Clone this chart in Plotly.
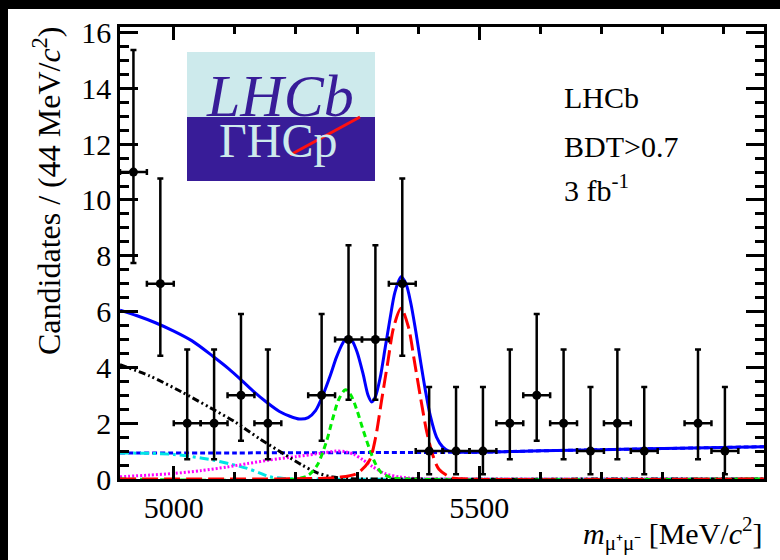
import plotly.graph_objects as go

# ---------------- data ----------------
bin_centers = [4934, 4978, 5022, 5066, 5110, 5154, 5198, 5242, 5286, 5330, 5374, 5418,
               5462, 5506, 5550, 5594, 5638, 5682, 5726, 5770, 5814, 5858, 5902, 5946]
counts = [11, 7, 2, 2, 3, 2, 0, 3, 5, 5, 7, 1, 1, 1, 2, 3, 2, 1, 2, 1, 0, 2, 1, 0]
err_hi = [4.377, 3.770, 2.638, 2.638, 2.918, 2.638, 1.841, 2.918, 3.382, 3.382, 3.770, 2.300,
          2.300, 2.300, 2.638, 2.918, 2.638, 2.300, 2.638, 2.300, 1.841, 2.638, 2.300, 1.841]
err_lo = [3.256, 2.581, 1.292, 1.292, 1.633, 1.292, 0.0, 1.633, 2.160, 2.160, 2.581, 0.827,
          0.827, 0.827, 1.292, 1.633, 1.292, 0.827, 1.292, 0.827, 0.0, 1.292, 0.827, 0.0]
bin_half_width = 22

total_x = [4912, 4940, 4970, 5000, 5030, 5064, 5090, 5108, 5130, 5152, 5173, 5190, 5206, 5220,
           5232, 5244, 5256, 5266, 5276, 5284, 5292, 5300, 5310, 5318, 5324, 5330, 5338, 5346,
           5354, 5362, 5372, 5380, 5388, 5396, 5404, 5412, 5420, 5430, 5440, 5450, 5462, 5500,
           5600, 5700, 5850, 5966]
total_y = [6.05, 5.85, 5.6, 5.3, 4.95, 4.4, 3.95, 3.6, 3.15, 2.75, 2.42, 2.25, 2.15, 2.2,
           2.45, 3.0, 3.7, 4.35, 4.85, 5.08, 4.95, 4.55, 3.75, 3.0, 2.76, 2.95, 3.65, 4.7,
           5.75, 6.7, 7.25, 7.0, 6.3, 5.3, 4.2, 3.15, 2.25, 1.5, 1.15, 1.0, 0.97, 0.96,
           1.01, 1.05, 1.11, 1.16]

comb_x = [4912, 5100, 5300, 5460, 5500, 5600, 5700, 5850, 5966]
comb_y = [0.93, 0.935, 0.945, 0.955, 0.96, 1.01, 1.05, 1.11, 1.16]

partreco_x = [4912, 4960, 5013, 5060, 5100, 5140, 5180, 5210, 5235, 5260, 5290, 5320, 5966]
partreco_y = [4.1, 3.7, 3.12, 2.55, 2.05, 1.45, 0.9, 0.5, 0.22, 0.07, 0.01, 0.0, 0.0]

semilep_x = [4912, 4960, 5000, 5030, 5064, 5090, 5119, 5140, 5157, 5180, 5220, 5966]
semilep_y = [0.93, 0.92, 0.88, 0.8, 0.68, 0.55, 0.39, 0.22, 0.08, 0.02, 0.0, 0.0]

peaking_x = [4912, 4960, 5000, 5045, 5087, 5120, 5157, 5200, 5243, 5265, 5280, 5295, 5310,
             5325, 5345, 5370, 5400, 5450, 5966]
peaking_y = [0.08, 0.14, 0.2, 0.3, 0.43, 0.55, 0.68, 0.8, 0.93, 1.0, 0.98, 0.88, 0.68,
             0.45, 0.2, 0.07, 0.01, 0.0, 0.0]

bd_x = [4912, 5200, 5220, 5235, 5250, 5260, 5270, 5281, 5290, 5300, 5310, 5320, 5330,
        5340, 5355, 5380, 5966]
bd_y = [0.0, 0.0, 0.13, 0.5, 1.35, 2.15, 2.85, 3.2, 3.0, 2.45, 1.75, 1.1, 0.55,
        0.22, 0.06, 0.0, 0.0]

bs_x = [4912, 5240, 5270, 5300, 5320, 5330, 5340, 5350, 5360, 5372, 5384, 5394, 5404,
        5414, 5424, 5434, 5454, 5480, 5966]
bs_y = [0.0, 0.02, 0.06, 0.2, 0.65, 1.45, 2.8, 4.15, 5.45, 6.12, 5.45, 4.2, 2.9,
        1.7, 0.85, 0.35, 0.05, 0.0, 0.0]

x_range = [4912, 5966]
y_range = [0, 16.2]

# ---------------- figure ----------------
fig = go.Figure()

def curve(x, y, color, dash, width=3):
    fig.add_trace(go.Scatter(x=x, y=y, mode="lines",
                             line=dict(color=color, dash=dash, width=width,
                                       shape="spline", smoothing=0.8),
                             hoverinfo="skip", showlegend=False))

curve(comb_x, comb_y, "#0000ff", "5px,3px")
curve(semilep_x, semilep_y, "#00e5e5", "9px,4px,3px,4px")
curve(peaking_x, peaking_y, "#ff00ff", "2px,2px")
curve(partreco_x, partreco_y, "#000000", "7px,3px,2px,3px,2px,3px")
curve(bd_x, bd_y, "#00ee00", "6px,4px")
curve(bs_x, bs_y, "#ff0000", "16px,6px")
curve(total_x, total_y, "#0000ff", "solid", 3)

px_ = [b for b, c in zip(bin_centers, counts) if c > 0]
py_ = [c for c in counts if c > 0]
ph_ = [h for h, c in zip(err_hi, counts) if c > 0]
pl_ = [l for l, c in zip(err_lo, counts) if c > 0]

fig.add_trace(go.Scatter(
    x=px_, y=py_, mode="markers",
    marker=dict(color="black", size=9),
    error_y=dict(type="data", array=ph_, arrayminus=pl_, symmetric=False,
                 color="black", thickness=2.5, width=3),
    error_x=dict(type="constant", value=bin_half_width, color="black",
                 thickness=2.5, width=3),
    showlegend=False, hoverinfo="skip"))

serif = "Liberation Serif"
L, R, T, B = 120, 16, 27, 81
W, H = 780, 560
pw, ph = W - L - R, H - T - B

def px2x(p):
    return (p - L) / pw

def py2y(p):
    return (H - B - p) / ph

shapes = [
    # black border bands along the top and left edges
    dict(type="rect", xref="paper", yref="paper", x0=px2x(0), x1=px2x(8),
         y0=py2y(H), y1=py2y(0), fillcolor="black", line_width=0, layer="above"),
    dict(type="rect", xref="paper", yref="paper", x0=px2x(0), x1=px2x(W),
         y0=py2y(9), y1=py2y(0), fillcolor="black", line_width=0, layer="above"),
    # LHCb logo
    dict(type="rect", xref="paper", yref="paper", x0=px2x(187), x1=px2x(375),
         y0=py2y(117), y1=py2y(52), fillcolor="#cdeaec", line_width=0, layer="above"),
    dict(type="rect", xref="paper", yref="paper", x0=px2x(187), x1=px2x(375),
         y0=py2y(181), y1=py2y(117), fillcolor="#381c98", line_width=0, layer="above"),
    dict(type="line", xref="paper", yref="paper", x0=px2x(290), y0=py2y(155),
         x1=px2x(360), y1=py2y(117), line=dict(color="#ff1010", width=3), layer="above"),
]

lab = dict(family=serif, size=30, color="black")
annotations = [
    dict(text="<i>LHCb</i>", xref="paper", yref="paper", x=px2x(280), y=py2y(96),
         xanchor="center", yanchor="middle", showarrow=False,
         font=dict(family=serif, size=60, color="#381c98")),
    dict(text="ΓHCp", xref="paper", yref="paper", x=px2x(278), y=py2y(141),
         xanchor="center", yanchor="middle", showarrow=False,
         font=dict(family=serif, size=48, color="#cdeaec")),
    dict(text="LHCb", xref="paper", yref="paper", x=px2x(562), y=py2y(98),
         xanchor="left", yanchor="middle", showarrow=False, font=lab),
    dict(text="BDT>0.7", xref="paper", yref="paper", x=px2x(562), y=py2y(146),
         xanchor="left", yanchor="middle", showarrow=False, font=lab),
    dict(text="3 fb<sup>-1</sup>", xref="paper", yref="paper", x=px2x(562), y=py2y(188),
         xanchor="left", yanchor="middle", showarrow=False, font=lab),
    dict(text="Candidates / (44 MeV/<i>c</i><sup>2</sup>)", xref="paper", yref="paper",
         x=px2x(47), y=py2y(191), textangle=-90, xanchor="center", yanchor="middle",
         showarrow=False, font=dict(family=serif, size=32, color="black")),
    dict(text="<i>m</i><sub>μ⁺μ⁻</sub> [MeV/<i>c</i><sup>2</sup>]", xref="paper", yref="paper",
         x=px2x(765), y=py2y(533), xanchor="right", yanchor="middle",
         showarrow=False, font=dict(family=serif, size=30, color="black")),
]

fig.update_layout(
    width=W, height=H,
    margin=dict(l=L, r=R, t=T, b=B),
    paper_bgcolor="white", plot_bgcolor="white",
    shapes=shapes, annotations=annotations,
    showlegend=False,
    font=dict(family=serif, color="black"),
)

fig.update_xaxes(range=x_range, showgrid=False, zeroline=False,
                 showline=True, linecolor="black", linewidth=2.5, mirror="ticks",
                 ticks="inside", ticklen=13, tickwidth=2.5, tickcolor="black",
                 tick0=5000, dtick=500,
                 minor=dict(ticks="inside", ticklen=7, tickwidth=2.5, tickcolor="black",
                            dtick=100, tick0=5000, showgrid=False),
                 tickfont=dict(family=serif, size=30, color="black"))
fig.update_yaxes(range=y_range, showgrid=False, zeroline=False,
                 showline=True, linecolor="black", linewidth=2.5, mirror="ticks",
                 ticks="inside", ticklen=18, tickwidth=2.5, tickcolor="black",
                 tick0=0, dtick=2,
                 minor=dict(ticks="inside", ticklen=9, tickwidth=2.5, tickcolor="black",
                            dtick=0.5, tick0=0, showgrid=False),
                 tickfont=dict(family=serif, size=30, color="black"))

# figure flush with the page corner, no scrollbars, no mode bar
fig.write_html(
    "out.html",
    config={"displayModeBar": False},
    post_script=("document.documentElement.style.overflow='hidden';"
                 "document.body.style.overflow='hidden';"
                 "document.body.style.margin='0';"
                 "document.body.style.background='white';"),
)
